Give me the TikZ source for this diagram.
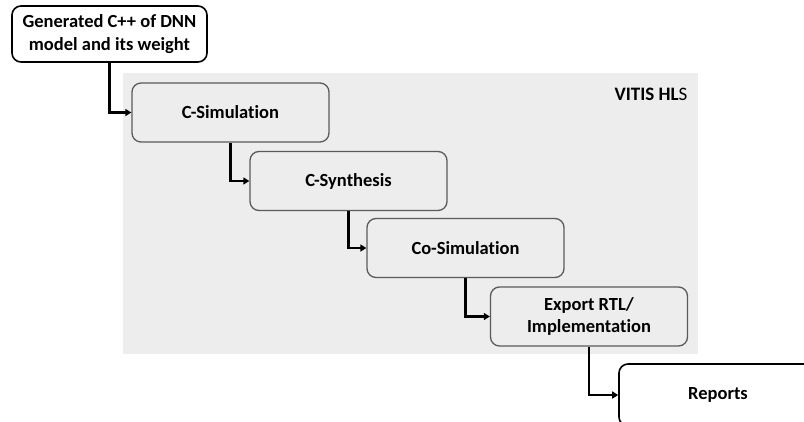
\documentclass[tikz,border=0pt]{standalone}
\usepackage{fontspec}
\setmainfont{Carlito}[Ligatures=NoCommon]
\usetikzlibrary{arrows.meta}
\definecolor{bggray}{HTML}{EDEDED}
\definecolor{edgegray}{HTML}{5A5A5A}
\begin{document}
\begin{tikzpicture}[x=1pt,y=-1pt,
  stagebox/.style={draw=edgegray, line width=1.3pt, fill=bggray, rounded corners=9pt, minimum width=197pt, minimum height=59pt, inner sep=0pt, align=center, font=\fontsize{18.5}{22}\selectfont\bfseries},
  inputbox/.style={draw=black, line width=1.6pt, fill=white, rounded corners=9pt, minimum width=195pt, minimum height=56pt, inner sep=0pt, align=center, font=\fontsize{18.5}{23}\selectfont\bfseries},
  flow/.style={draw=black, line width=2.5pt, -{Triangle[length=6pt,width=7pt]}}]
\useasboundingbox (0,0) rectangle (804,421);
\clip (0,0) rectangle (804,421);
\fill[bggray] (123,73) rectangle (698,354);
\node[font=\fontsize{19}{22}\selectfont, anchor=east] (vitis) at (691,94) {\textbf{VITIS HL}S};
\node[inputbox] (gen) at (109.5,34) {Generated C++ of DNN\\model and its weight};
\node[stagebox] (csim) at (230.5,112.5) {C-Simulation};
\node[stagebox] (csyn) at (348.5,181) {C-Synthesis};
\node[stagebox] (cosim) at (465.5,248) {Co-Simulation};
\node[stagebox] (export) at (589,316.5) {Export RTL/\\Implementation};
\node[inputbox, minimum width=198pt, minimum height=62pt] (rep) at (718,395) {Reports};
\draw[flow] (gen.south) |- (csim.west);
\draw[flow] (csim.south) |- (csyn.west);
\draw[flow] (csyn.south) |- (cosim.west);
\draw[flow] (cosim.south) |- (export.west);
\draw[flow] (export.south) |- (rep.west);
\end{tikzpicture}
\end{document}
